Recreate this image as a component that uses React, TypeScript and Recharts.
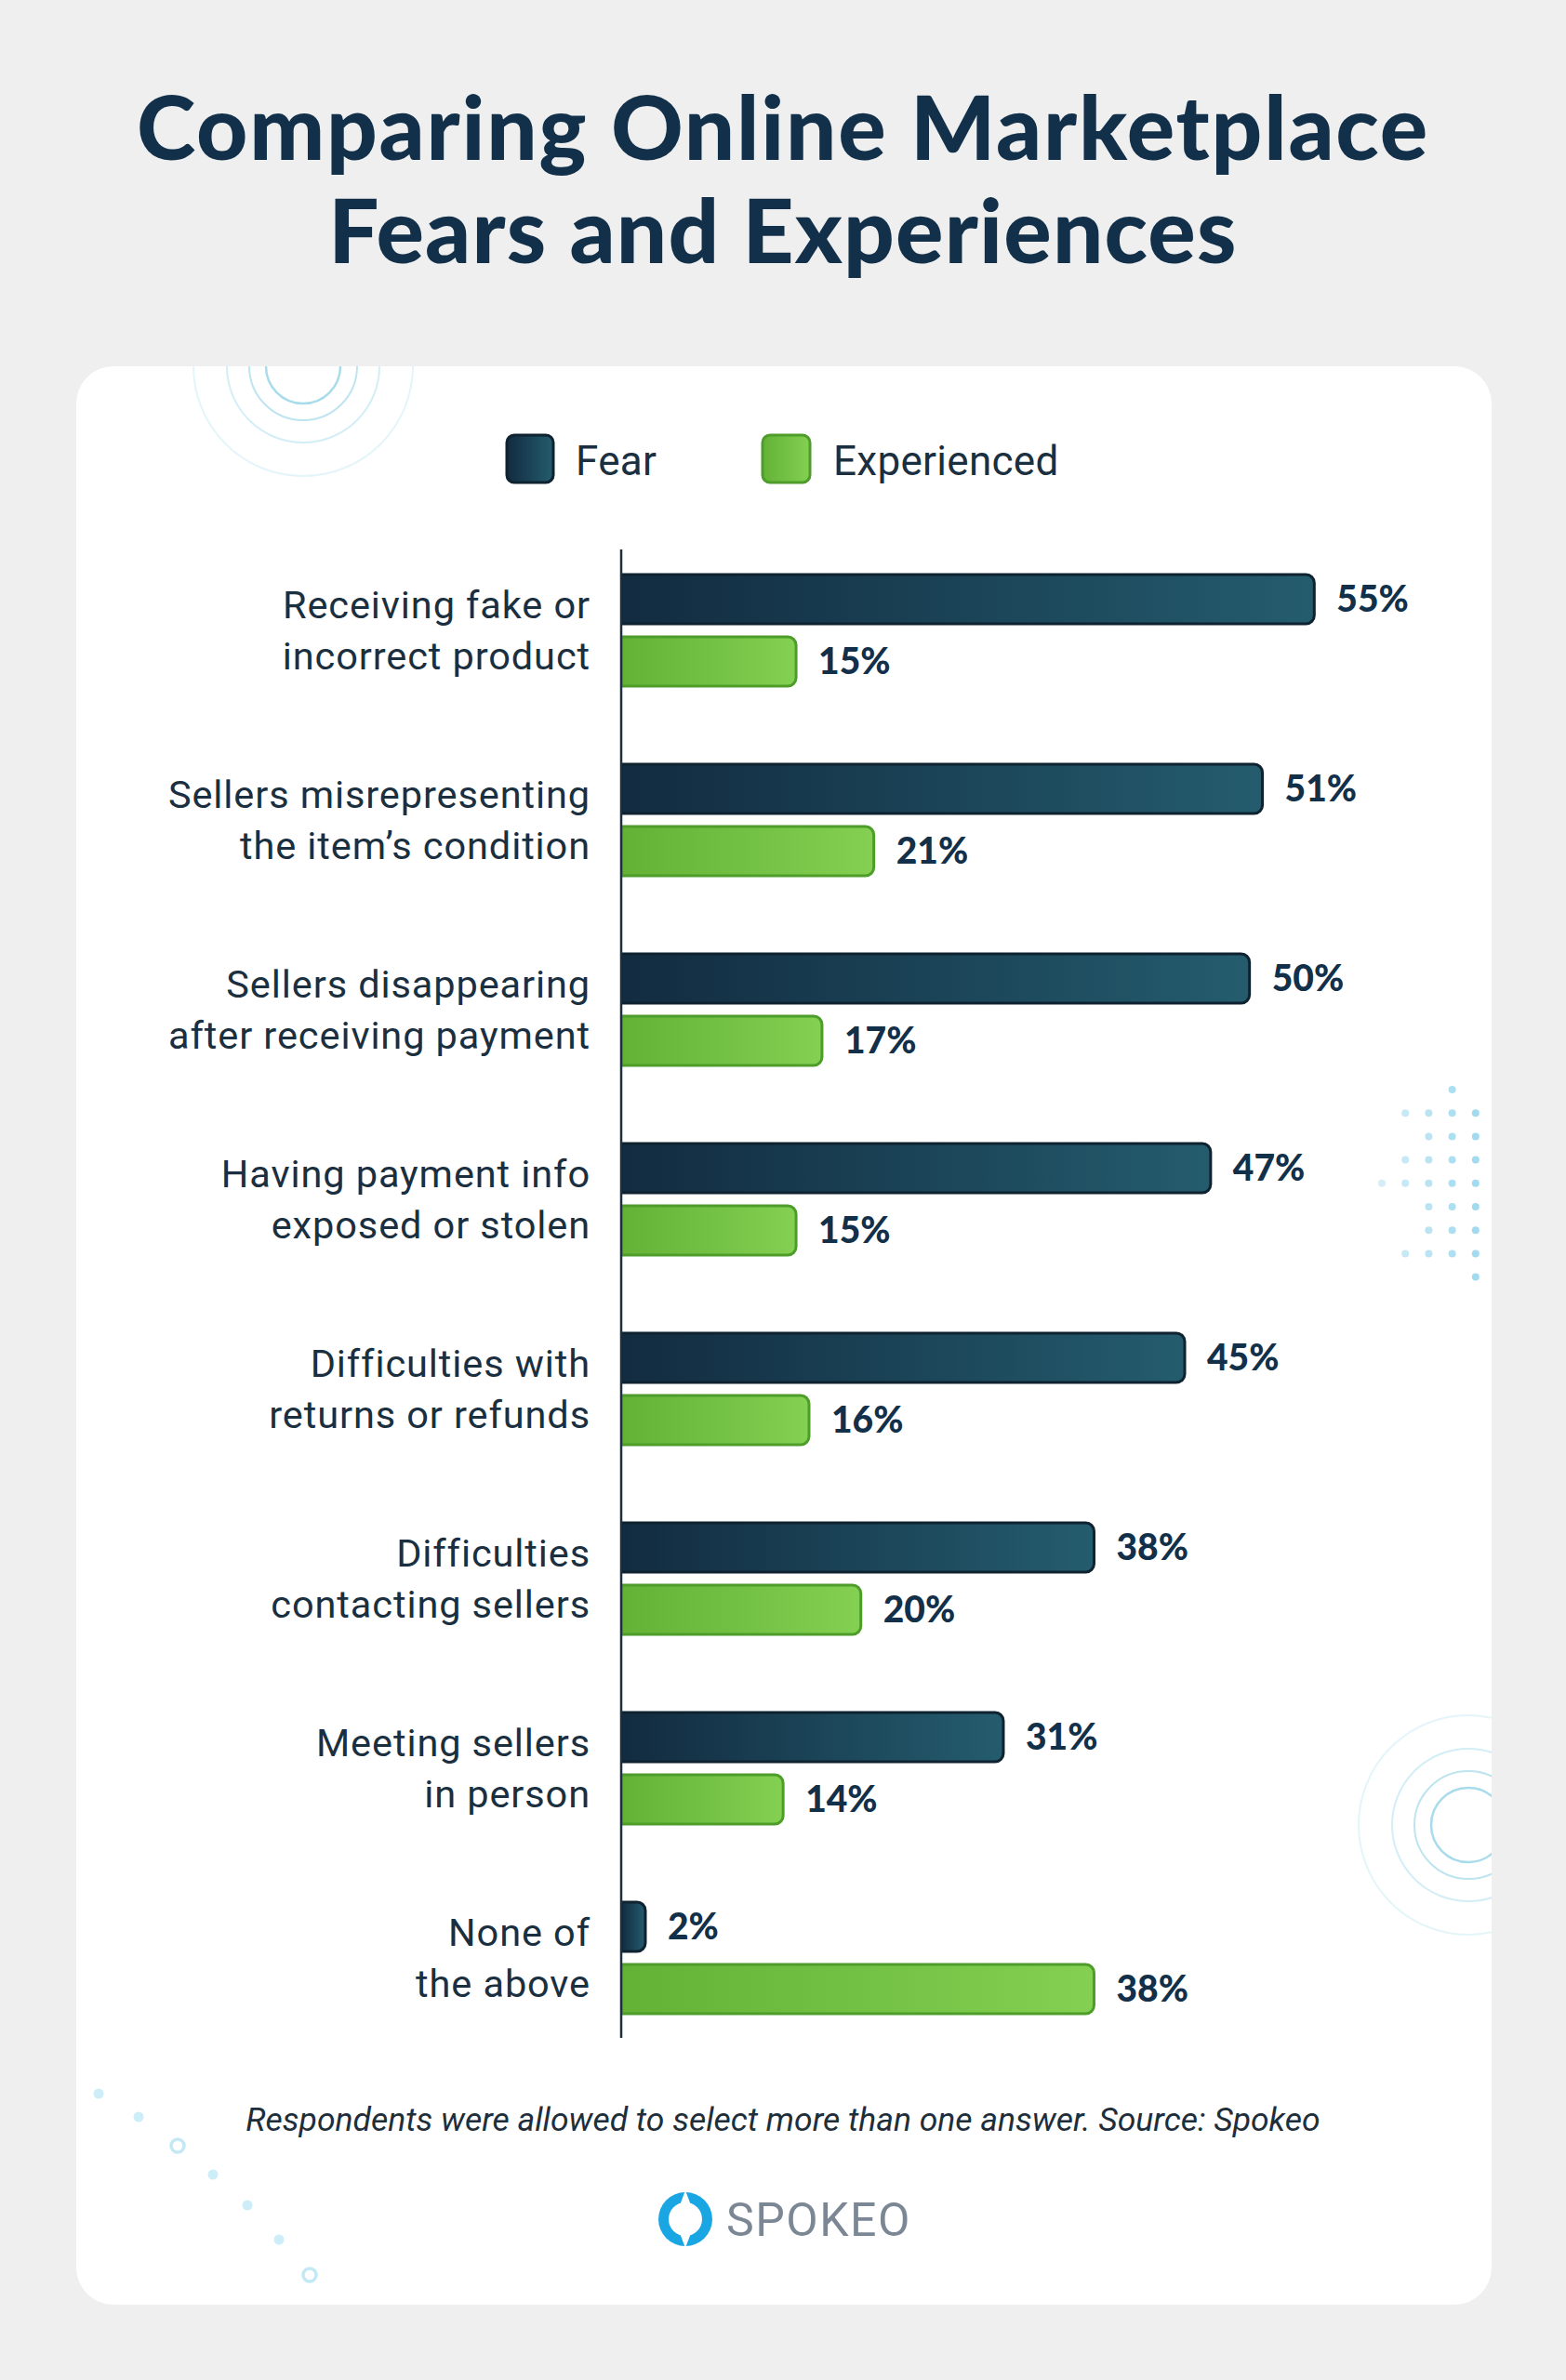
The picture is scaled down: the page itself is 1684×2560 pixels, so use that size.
import React from "react";
import { BarChart, Bar, XAxis, YAxis, LabelList } from "recharts";

const CATEGORIES = [
  ["Receiving fake or", "incorrect product"],
  ["Sellers misrepresenting", "the item’s condition"],
  ["Sellers disappearing", "after receiving payment"],
  ["Having payment info", "exposed or stolen"],
  ["Difficulties with", "returns or refunds"],
  ["Difficulties", "contacting sellers"],
  ["Meeting sellers", "in person"],
  ["None of", "the above"],
];
const FEAR = [55, 51, 50, 47, 45, 38, 31, 2];
const EXPERIENCED = [15, 21, 17, 15, 16, 20, 14, 38];
const SERIES = ["Fear", "Experienced"];

const data = CATEGORIES.map((lines, i) => ({
  label: lines.join("\n"),
  fear: FEAR[i],
  experienced: EXPERIENCED[i],
}));

const NAVY = "#12304a";
const LABEL_FONT = "Roboto, 'Noto Sans', sans-serif";
const BOLD_FONT = "Lato, 'Noto Sans', sans-serif";

// right side dot grid: rows of column indexes
const DOT_ROWS = [[3], [1, 2, 3, 4], [2, 3, 4], [1, 2, 3, 4], [0, 1, 2, 3, 4], [2, 3, 4], [2, 3, 4], [1, 2, 3, 4], [4]];

function CategoryTick(props: any) {
  const { x, y, payload } = props;
  const lines = String(payload.value).split("\n");
  return (
    <text x={x} y={y} textAnchor="end" fill="#1a2f40" fontFamily={LABEL_FONT} fontSize={41.5} letterSpacing={0.9}>
      <tspan x={x} y={y - 13}>{lines[0]}</tspan>
      <tspan x={x} y={y + 42}>{lines[1]}</tspan>
    </text>
  );
}

function Rings({ cx, cy }: { cx: number; cy: number }) {
  return (
    <g fill="none">
      <circle cx={cx} cy={cy} r={40} stroke="#a9dcea" strokeWidth={2.5} />
      <circle cx={cx} cy={cy} r={58} stroke="#bde4ef" strokeWidth={2} />
      <circle cx={cx} cy={cy} r={82} stroke="#d3eef6" strokeWidth={2} />
      <circle cx={cx} cy={cy} r={118} stroke="#e4f5fa" strokeWidth={2} />
    </g>
  );
}

const valueLabel = {
  position: "right" as const,
  offset: 24,
  formatter: (v: any) => `${v}%`,
  fill: NAVY,
  fontFamily: BOLD_FONT,
  fontWeight: 900,
  fontSize: 39,
};

export default function App() {
  return (
    <div style={{ position: "relative", width: 1684, height: 2560, overflow: "hidden" }}>
      <style>{`body{margin:0}`}</style>
      <svg width={1684} height={2560} style={{ position: "absolute", left: 0, top: 0 }}>
        <defs>
          <clipPath id="cardClip">
            <rect x={82} y={394} width={1522} height={2085} rx={40} />
          </clipPath>
          <linearGradient id="fearGrad" x1="0" y1="0" x2="1" y2="0">
            <stop offset="0%" stopColor="#122b40" />
            <stop offset="100%" stopColor="#245c6e" />
          </linearGradient>
          <linearGradient id="expGrad" x1="0" y1="0" x2="1" y2="0">
            <stop offset="0%" stopColor="#63b236" />
            <stop offset="100%" stopColor="#83d052" />
          </linearGradient>
        </defs>
        <rect x={0} y={0} width={1684} height={2560} fill="#efefef" />
        <rect x={82} y={394} width={1522} height={2085} rx={40} fill="#ffffff" />
        <g clipPath="url(#cardClip)">
          <Rings cx={326} cy={394} />
          <Rings cx={1579} cy={1963} />
          {DOT_ROWS.map((cols, r) =>
            cols.map((c) => (
              <circle
                key={`${r}-${c}`}
                cx={1486 + c * 25.2}
                cy={1172 + r * 25.2}
                r={4}
                fill="#9fd9ee"
                opacity={0.45 + c * 0.13}
              />
            ))
          )}
          {[
            [106, 2252, 0], [149, 2277, 0], [191, 2308, 1], [229, 2339, 0],
            [266, 2372, 0], [300, 2409, 0], [333, 2447, 1],
          ].map(([x, y, ring], i) =>
            ring ? (
              <circle key={i} cx={x} cy={y} r={7} fill="none" stroke="#c3e9f6" strokeWidth={3.5} />
            ) : (
              <circle key={i} cx={x} cy={y} r={5.5} fill="#cdeef8" />
            )
          )}
        </g>

        <text x={842} y={172} textAnchor="middle" fill={NAVY} fontFamily={BOLD_FONT} fontWeight={900} fontSize={96} letterSpacing={1.8}>
          Comparing Online Marketplace
        </text>
        <text x={842} y={283} textAnchor="middle" fill={NAVY} fontFamily={BOLD_FONT} fontWeight={900} fontSize={96} letterSpacing={1.2}>
          Fears and Experiences
        </text>

        {/* legend */}
        <rect x={545} y={468} width={50} height={51} rx={8} fill="url(#fearGrad)" stroke="#0f2230" strokeWidth={3} />
        <text x={619} y={511} fill="#1a2f40" fontFamily={LABEL_FONT} fontSize={44} letterSpacing={0.3}>{SERIES[0]}</text>
        <rect x={820} y={468} width={51} height={51} rx={8} fill="url(#expGrad)" stroke="#4e9d2b" strokeWidth={3} />
        <text x={896} y={511} fill="#1a2f40" fontFamily={LABEL_FONT} fontSize={44} letterSpacing={0.3}>{SERIES[1]}</text>

        <text x={842} y={2292} textAnchor="middle" fill="#1e2e3b" fontFamily={LABEL_FONT} fontStyle="italic" fontSize={35.5}>
          Respondents were allowed to select more than one answer. Source: Spokeo
        </text>

        {/* logo */}
        <circle cx={737} cy={2387} r={29} fill="#1aa5e3" />
        <circle cx={737} cy={2387} r={18} fill="#ffffff" />
        <path d="M731 2372 L737 2356 L743 2372 Z" fill="#ffffff" />
        <path d="M731 2402 L737 2418 L743 2402 Z" fill="#ffffff" />
        <text x={781} y={2405} fill="#7b8794" fontFamily={LABEL_FONT} fontSize={50} letterSpacing={1.5}>SPOKEO</text>
      </svg>

      <div style={{ position: "absolute", left: 82, top: 394 }}>
        <BarChart
          width={1522}
          height={2085}
          data={data}
          layout="vertical"
          margin={{ top: 197, right: 128, bottom: 287, left: 0 }}
          barSize={53}
          barGap={14}
        >
          <XAxis type="number" domain={[1.5, 59.5]} allowDataOverflow hide />
          <YAxis
            type="category"
            dataKey="label"
            width={586}
            interval={0}
            tickLine={false}
            tickSize={0}
            tickMargin={33}
            padding={{ top: -15, bottom: -16 }}
            axisLine={{ stroke: "#1b2f3f", strokeWidth: 2.5 }}
            tick={<CategoryTick />}
          />
          <Bar
            dataKey="fear"
            name={SERIES[0]}
            fill="url(#fearGrad)"
            stroke="#0f2230"
            strokeWidth={3}
            radius={[0, 9, 9, 0]}
            minPointSize={26}
            isAnimationActive={false}
          >
            <LabelList dataKey="fear" {...valueLabel} />
          </Bar>
          <Bar
            dataKey="experienced"
            name={SERIES[1]}
            fill="url(#expGrad)"
            stroke="#4e9d2b"
            strokeWidth={3}
            radius={[0, 9, 9, 0]}
            minPointSize={26}
            isAnimationActive={false}
          >
            <LabelList dataKey="experienced" {...valueLabel} />
          </Bar>
        </BarChart>
      </div>
    </div>
  );
}
